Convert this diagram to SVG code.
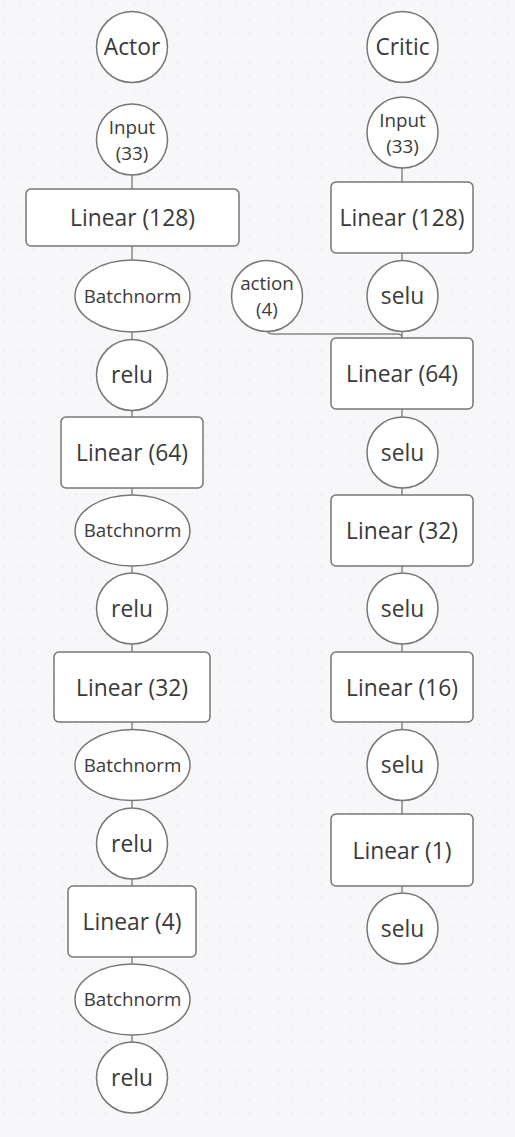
<svg xmlns="http://www.w3.org/2000/svg" width="515" height="1137" viewBox="0 0 515 1137">
<defs>
<pattern id="dots" x="4" y="4" width="14.4" height="14.4" patternUnits="userSpaceOnUse">
<circle cx="0.7" cy="0.7" r="0.7" fill="#dcdce0"/>
</pattern>
<style>
.n{fill:#fff;stroke:#777;stroke-width:1.5}
.t{font-family:"Open Sans","Noto Sans",sans-serif;fill:#3a3a3a;text-anchor:middle}
.l{font-size:22.8px}
.s{font-size:18.8px}
.c{stroke:#888;stroke-width:1.5;fill:none}
</style>
</defs>
<rect width="515" height="1137" fill="#f7f7f9"/>
<rect width="515" height="1137" fill="url(#dots)"/>
<g id="connectors">
<path class="c" d="M132,175V189M132,246V260M132,332V340M132,410V417M132,488V495M132,566V573M132,644V652M132,722V730M132,800V808M132,879V886M132,957V964M132,1035V1042"/>
<path class="c" d="M402,168V182M402,253V260M402,332V338M402,409V417M402,488V495M402,566V573M402,644V652M402,722V730M402,800V814M402,886V893"/>
<path class="c" d="M267,331Q268,334 274,334L397,334Q402,334 402,338"/>
</g>
<g id="actor"><circle class="n" cx="132" cy="47" r="35.5"/><text class="t l" x="132" y="55">Actor</text></g>
<g id="a-input"><circle class="n" cx="132" cy="139.5" r="35.5"/><text class="t s" x="132" y="134">Input</text><text class="t s" x="132" y="160">(33)</text></g>
<g id="a-linear128"><rect class="n" x="26" y="189" width="213" height="57" rx="5"/><text class="t l" x="132.5" y="225.5">Linear (128)</text></g>
<g id="a-bn1"><ellipse class="n" cx="132.5" cy="296" rx="57.5" ry="36"/><text class="t s" x="132.5" y="302.5">Batchnorm</text></g>
<g id="a-relu1"><circle class="n" cx="132" cy="375" r="35.5"/><text class="t l" x="132" y="383">relu</text></g>
<g id="a-linear64"><rect class="n" x="61" y="417" width="142" height="71" rx="5"/><text class="t l" x="132" y="460.5">Linear (64)</text></g>
<g id="a-bn2"><ellipse class="n" cx="132.5" cy="530.5" rx="57.5" ry="35.5"/><text class="t s" x="132.5" y="537">Batchnorm</text></g>
<g id="a-relu2"><circle class="n" cx="132" cy="608.5" r="35.5"/><text class="t l" x="132" y="616.5">relu</text></g>
<g id="a-linear32"><rect class="n" x="54" y="652" width="156" height="70" rx="5"/><text class="t l" x="132" y="695.5">Linear (32)</text></g>
<g id="a-bn3"><ellipse class="n" cx="132.5" cy="765" rx="57.5" ry="35.5"/><text class="t s" x="132.5" y="771.5">Batchnorm</text></g>
<g id="a-relu3"><circle class="n" cx="132" cy="843.5" r="35.5"/><text class="t l" x="132" y="851.5">relu</text></g>
<g id="a-linear4"><rect class="n" x="68" y="886" width="128" height="71" rx="5"/><text class="t l" x="132" y="929.5">Linear (4)</text></g>
<g id="a-bn4"><ellipse class="n" cx="132.5" cy="999.5" rx="57.5" ry="35.5"/><text class="t s" x="132.5" y="1006">Batchnorm</text></g>
<g id="a-relu4"><circle class="n" cx="132" cy="1077.5" r="35.5"/><text class="t l" x="132" y="1085.5">relu</text></g>
<g id="critic"><circle class="n" cx="402.5" cy="47" r="35.5"/><text class="t l" x="402.5" y="55">Critic</text></g>
<g id="c-input"><circle class="n" cx="402.5" cy="132.5" r="35.5"/><text class="t s" x="402.5" y="127">Input</text><text class="t s" x="402.5" y="153">(33)</text></g>
<g id="c-linear128"><rect class="n" x="331" y="182" width="142" height="71" rx="5"/><text class="t l" x="402" y="225.5">Linear (128)</text></g>
<g id="c-selu1"><circle class="n" cx="402.5" cy="296" r="35.5"/><text class="t l" x="402.5" y="304">selu</text></g>
<g id="action"><circle class="n" cx="267" cy="296" r="35.5"/><text class="t s" x="267" y="290">action</text><text class="t s" x="267" y="316">(4)</text></g>
<g id="c-linear64"><rect class="n" x="331" y="338" width="142" height="71" rx="5"/><text class="t l" x="402" y="381.5">Linear (64)</text></g>
<g id="c-selu2"><circle class="n" cx="402.5" cy="452.5" r="35.5"/><text class="t l" x="402.5" y="460.5">selu</text></g>
<g id="c-linear32"><rect class="n" x="331" y="495" width="142" height="71" rx="5"/><text class="t l" x="402" y="538.5">Linear (32)</text></g>
<g id="c-selu3"><circle class="n" cx="402.5" cy="608.5" r="35.5"/><text class="t l" x="402.5" y="616.5">selu</text></g>
<g id="c-linear16"><rect class="n" x="331" y="652" width="142" height="70" rx="5"/><text class="t l" x="402" y="695.5">Linear (16)</text></g>
<g id="c-selu4"><circle class="n" cx="402.5" cy="765" r="35.5"/><text class="t l" x="402.5" y="773">selu</text></g>
<g id="c-linear1"><rect class="n" x="331" y="814" width="142" height="72" rx="5"/><text class="t l" x="402" y="858.5">Linear (1)</text></g>
<g id="c-selu5"><circle class="n" cx="402.5" cy="928.5" r="35.5"/><text class="t l" x="402.5" y="936.5">selu</text></g>
</svg>
